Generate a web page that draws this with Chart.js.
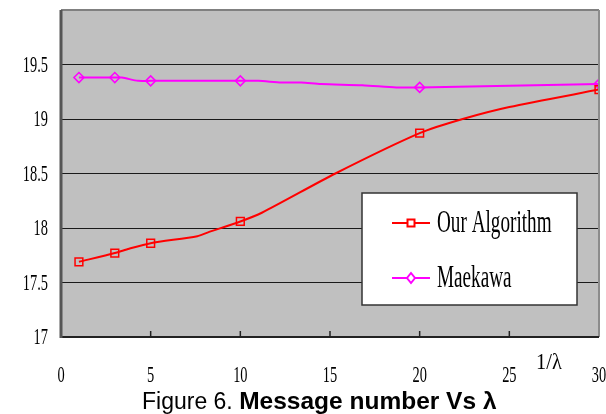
<!DOCTYPE html>
<html>
<head>
<meta charset="utf-8">
<script src="https://cdn.jsdelivr.net/npm/chart.js@4/dist/chart.umd.min.js"></script>
<style>
  body { margin: 0; background: #fff; }
  #wrap { position: relative; width: 606px; height: 414px; }
  #caption {
    position: absolute; left: 142px; top: 387px; white-space: nowrap;
    font-family: "Liberation Sans", Arial, sans-serif; font-size: 23px; color: #000;
  }
  #caption b { font-size: 24.5px; }
</style>
</head>
<body>
<div id="wrap">
  <canvas id="chart" width="606" height="414"></canvas>
  <div id="caption">Figure 6. <b>Message number Vs λ</b></div>
</div>
<script>
// values (unmarked entries are bends of the drawn curve)
const ourX = [1, 3, 3.8, 5, 7.6, 8.2, 10, 11.2, 15.3, 20, 22.4, 25, 30]
const ourY = [17.69, 17.77, 17.81, 17.86, 17.925, 17.96, 18.06, 18.14, 18.5, 18.87, 19.0, 19.11, 19.27]
const ourMarked = [1, 1, 0, 1, 0, 0, 1, 0, 0, 1, 0, 0, 1]

const maeX = [1, 3, 3.4, 4.3, 5, 10, 11, 12.3, 13.4, 14.5, 16.8, 18.7, 20, 30]
const maeY = [19.38, 19.38, 19.38, 19.35, 19.35, 19.35, 19.35, 19.335, 19.335, 19.32, 19.31, 19.29, 19.29, 19.32]
const maeMarked = [1, 1, 0, 0, 1, 1, 0, 0, 0, 0, 0, 0, 1, 1]

const seriesNames = ['Our Algorithm', 'Maekawa']
const xTicks = [0, 5, 10, 15, 20, 25, 30]
const yTicks = [17, 17.5, 18, 18.5, 19, 19.5]
const xTitle = '1/λ'

const toPoints = (xs, ys) => xs.map((x, i) => ({ x: x, y: ys[i] }))

const SERIF = '"Liberation Serif", "Times New Roman", serif'

// draw horizontally squeezed serif text, like the original figure
function narrowText(ctx, txt, x, y, size, align, baseline, sx) {
  ctx.save()
  ctx.font = size + 'px ' + SERIF
  ctx.fillStyle = '#000'
  ctx.textAlign = align
  ctx.textBaseline = baseline
  ctx.translate(x, y)
  ctx.scale(sx || 0.6, 1)
  ctx.fillText(txt, 0, 0)
  ctx.restore()
}

const figurePlugin = {
  id: 'figure',
  beforeDraw(chart) {
    const { ctx, chartArea: a } = chart
    ctx.save()
    ctx.fillStyle = '#c0c0c0'
    ctx.fillRect(a.left, a.top, a.right - a.left, a.bottom - a.top)
    ctx.restore()
  },
  afterDraw(chart) {
    const { ctx, chartArea: a } = chart
    const xs = chart.scales.x
    const ys = chart.scales.y

    ctx.save()
    // frame
    ctx.lineWidth = 2
    ctx.strokeStyle = '#808080'
    ctx.beginPath(); ctx.moveTo(a.left, a.top); ctx.lineTo(a.right, a.top); ctx.stroke()
    ctx.strokeStyle = '#8c8c8c'
    ctx.beginPath(); ctx.moveTo(a.right, a.top); ctx.lineTo(a.right, a.bottom); ctx.stroke()
    ctx.strokeStyle = '#222'
    ctx.beginPath(); ctx.moveTo(a.left, a.bottom); ctx.lineTo(a.right, a.bottom); ctx.stroke()
    ctx.lineWidth = 3
    ctx.strokeStyle = '#555'
    ctx.beginPath(); ctx.moveTo(a.left, a.top); ctx.lineTo(a.left, a.bottom + 1); ctx.stroke()

    // inward tick marks on the x axis
    ctx.lineWidth = 1.5
    ctx.strokeStyle = '#222'
    xTicks.slice(1, -1).forEach(v => {
      const px = xs.getPixelForValue(v)
      ctx.beginPath(); ctx.moveTo(px, a.bottom); ctx.lineTo(px, a.bottom - 6); ctx.stroke()
    })
    ctx.restore()

    // tick labels
    yTicks.forEach(v => narrowText(ctx, String(v), a.left - 13, ys.getPixelForValue(v) + 1, 24, 'right', 'middle'))
    xTicks.forEach(v => narrowText(ctx, String(v), xs.getPixelForValue(v), a.bottom + 27, 24, 'center', 'top'))
    narrowText(ctx, xTitle, 549, 351, 24, 'center', 'top', 0.85)

    // legend box
    const lx = 362, ly = 193, lw = 215, lh = 112
    ctx.save()
    ctx.fillStyle = '#fff'
    ctx.fillRect(lx, ly, lw, lh)
    ctx.lineWidth = 1.5
    ctx.strokeStyle = '#333'
    ctx.strokeRect(lx, ly, lw, lh)
    const rows = [
      { y: 223, color: '#ff0000', shape: 'square' },
      { y: 278, color: '#ff00ff', shape: 'diamond' }
    ]
    rows.forEach((r, i) => {
      ctx.strokeStyle = r.color
      ctx.lineWidth = 2
      ctx.beginPath(); ctx.moveTo(392, r.y); ctx.lineTo(430, r.y); ctx.stroke()
      ctx.fillStyle = '#fff'
      ctx.beginPath()
      if (r.shape === 'square') {
        ctx.rect(407.5, r.y - 3.5, 7, 7)
      } else {
        ctx.moveTo(411, r.y - 5); ctx.lineTo(415, r.y); ctx.lineTo(411, r.y + 5); ctx.lineTo(407, r.y); ctx.closePath()
      }
      ctx.fill(); ctx.stroke()
      narrowText(ctx, seriesNames[i], 437, r.y + 1, 32, 'left', 'middle')
    })
    ctx.restore()
  }
}

const ctx = document.getElementById('chart').getContext('2d')

new Chart(ctx, {
  type: 'line',
  data: {
    datasets: [
      {
        label: seriesNames[0],
        data: toPoints(ourX, ourY),
        borderColor: '#ff0000',
        borderWidth: 2,
        backgroundColor: 'rgba(0,0,0,0)',
        pointStyle: 'rect',
        pointRadius: ourMarked.map(m => (m ? 5.5 : 0)),
        pointBorderWidth: 1.5,
        tension: 0.25,
      },
      {
        label: seriesNames[1],
        data: toPoints(maeX, maeY),
        borderColor: '#ff00ff',
        borderWidth: 2,
        backgroundColor: 'rgba(0,0,0,0)',
        pointStyle: 'rectRot',
        pointRadius: maeMarked.map(m => (m ? 5 : 0)),
        pointBorderWidth: 1.5,
        tension: 0.25,
      },
    ],
  },
  options: {
    responsive: false,
    animation: false,
    layout: { padding: { left: 61, right: 6, top: 10, bottom: 77 } },
    plugins: {
      legend: { display: false },
      tooltip: { enabled: false },
    },
    scales: {
      x: {
        type: 'linear',
        min: 0,
        max: 30,
        ticks: { display: false, stepSize: 5 },
        grid: { display: false, drawTicks: false },
        border: { display: false },
      },
      y: {
        min: 17,
        max: 20,
        ticks: { display: false, stepSize: 0.5 },
        grid: { color: '#1a1a1a', lineWidth: 1, drawTicks: false },
        border: { display: false },
      },
    },
  },
  plugins: [figurePlugin],
})
</script>
</body>
</html>
